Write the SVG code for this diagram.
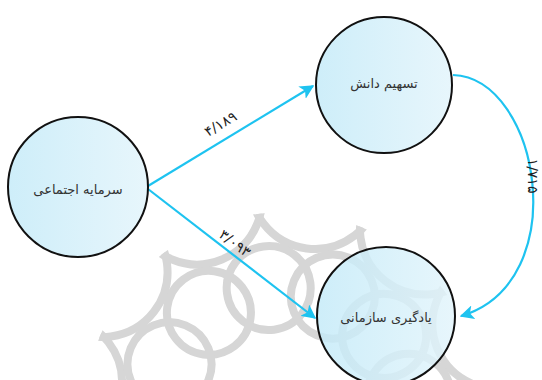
<svg xmlns="http://www.w3.org/2000/svg" width="542" height="380" viewBox="0 0 542 380">
  <style>
    .node { fill: url(#nodeFill); stroke: #111; stroke-width: 2; }
    .label { font-family: "DejaVu Sans", "Noto Sans", sans-serif; font-size: 13px; fill: #333; text-anchor: middle; dominant-baseline: central; }
    .num { font-family: "DejaVu Sans", "Noto Sans", sans-serif; font-size: 14px; fill: #222; text-anchor: middle; }
    .edge { fill: none; stroke: #1ec3f0; stroke-width: 2.2; }
    .mark { fill: none; stroke: #d6d6d6; stroke-width: 8; }
  </style>
  <defs>
    <linearGradient id="nodeFill" x1="0" y1="0" x2="1" y2="0">
      <stop offset="0" stop-color="#c3eaf8" stop-opacity="0.82"/>
      <stop offset="1" stop-color="#e2f4fb" stop-opacity="0.82"/>
    </linearGradient>
    <marker id="arrow" viewBox="0 0 10 10" refX="9" refY="5" markerWidth="6.5" markerHeight="6.5" orient="auto" markerUnits="strokeWidth">
      <path d="M0,0 L10,5 L0,10 L2.5,5 Z" fill="#1ec3f0"/>
    </marker>
    <clipPath id="emblemClip">
      <circle cx="0" cy="0" r="200"/>
    </clipPath>
    <circle id="outerLobe" cx="0" cy="-230" r="65"/>
    <circle id="innerLobe" cx="0" cy="-125" r="42"/>
  </defs>

  <rect width="542" height="380" fill="#ffffff"/>

  <!-- background lattice emblem: ring of overlapping lobes clipped to a disk -->
  <g id="emblem" transform="translate(285,412)">
    <g class="mark" clip-path="url(#emblemClip)">
      <use href="#outerLobe" transform="rotate(7.5)"/>
      <use href="#outerLobe" transform="rotate(-22.5)"/>
      <use href="#outerLobe" transform="rotate(-52.5)"/>
      <use href="#outerLobe" transform="rotate(-82.5)"/>
      <use href="#outerLobe" transform="rotate(37.5)"/>
      <use href="#outerLobe" transform="rotate(67.5)"/>
      <use href="#outerLobe" transform="rotate(97.5)"/>
      <use href="#innerLobe" transform="rotate(-7.5)"/>
      <use href="#innerLobe" transform="rotate(-37.5)"/>
      <use href="#innerLobe" transform="rotate(-67.5)"/>
      <use href="#innerLobe" transform="rotate(-97.5)"/>
      <use href="#innerLobe" transform="rotate(22.5)"/>
      <use href="#innerLobe" transform="rotate(52.5)"/>
      <use href="#innerLobe" transform="rotate(82.5)"/>
    </g>
  </g>

  <!-- connectors -->
  <g id="connectors">
    <path class="edge" d="M148,186 L313,86" marker-end="url(#arrow)"/>
    <path class="edge" d="M148,189 L315,318" marker-end="url(#arrow)"/>
    <path class="edge" d="M453,75 C540,78 575,282 461,316" marker-end="url(#arrow)"/>
    <text class="num" transform="translate(223,128) rotate(-31)">۴/۱۸۹</text>
    <text class="num" transform="translate(232,247) rotate(37)">۳/۰۹۳</text>
    <text class="num" transform="translate(528,176) rotate(90)">۱/۷۱۵</text>
  </g>

  <!-- nodes -->
  <g id="social-capital">
    <circle class="node" cx="78" cy="187" r="70"/>
    <text class="label" x="78" y="189">سرمایه اجتماعی</text>
  </g>
  <g id="knowledge-sharing">
    <circle class="node" cx="384" cy="85" r="68"/>
    <text class="label" x="384" y="83">تسهیم دانش</text>
  </g>
  <g id="organizational-learning">
    <circle class="node" cx="386" cy="316" r="69"/>
    <text class="label" x="386" y="317">یادگیری سازمانی</text>
  </g>
</svg>
